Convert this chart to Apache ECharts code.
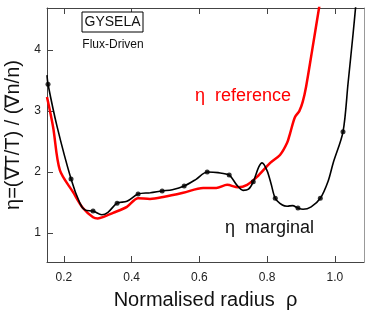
<!DOCTYPE html>
<html><head><meta charset="utf-8">
<script src="https://cdn.jsdelivr.net/npm/echarts@6/dist/echarts.min.js"></script>
<style>html,body{margin:0;padding:0;background:#fff}#c{width:365px;height:312px}</style>
</head><body><div id="c"></div>
<script>
const xTicks = [0.2, 0.4, 0.6, 0.8, 1.0];
const yTicks = [1, 2, 3, 4];

const marginalX = [0.150,0.153,0.18,0.221,0.247,0.262,0.286,0.312,0.33,0.357,0.386,0.419,0.455,0.490,0.52,0.555,0.59,0.623,0.655,0.688,0.71,0.729,0.745,0.759,0.775,0.785,0.80,0.812,0.824,0.845,0.859,0.875,0.891,0.906,0.93,0.957,0.98,0.995,1.024,1.039,1.054,1.062];
const marginalY = [3.59,3.44,2.74,1.886,1.49,1.38,1.36,1.30,1.34,1.49,1.52,1.64,1.66,1.69,1.71,1.77,1.88,2.00,1.99,1.95,1.79,1.70,1.72,1.84,2.08,2.15,2.02,1.80,1.57,1.46,1.44,1.45,1.41,1.39,1.43,1.57,1.85,2.15,2.66,3.46,4.28,4.75];

const markerX = [0.153,0.221,0.286,0.357,0.419,0.490,0.555,0.623,0.688,0.759,0.824,0.891,0.957,1.024];
const markerY = [3.44,1.886,1.36,1.49,1.64,1.69,1.77,2.00,1.95,1.84,1.57,1.41,1.57,2.66];

const referenceX = [0.150,0.168,0.188,0.227,0.256,0.286,0.30,0.315,0.345,0.386,0.419,0.454,0.493,0.552,0.611,0.65,0.682,0.714,0.741,0.77,0.809,0.838,0.859,0.868,0.882,0.895,0.905,0.915,0.933,0.955];
const referenceY = [3.23,2.74,2.03,1.67,1.41,1.26,1.24,1.26,1.33,1.43,1.57,1.56,1.59,1.66,1.74,1.74,1.79,1.75,1.79,1.92,2.15,2.28,2.48,2.64,2.90,3.00,3.15,3.40,4.0,4.75];

const zip = (a, b) => a.map((v, i) => [v, b[i]]);
const axisColor = '#444';
const font = '"Liberation Sans", Arial, sans-serif';

const chart = echarts.init(document.getElementById('c'));
chart.setOption({
  animation: false,
  grid: { left: 47, right: 1, top: 8, bottom: 50, outerBoundsMode: 'none', containLabel: false },
  xAxis: [{
    type: 'value', min: 0.15, max: 1.086, position: 'bottom',
    name: 'Normalised radius  ρ', nameLocation: 'middle', nameGap: 28,
    nameTextStyle: { fontSize: 20, color: '#111', fontFamily: font },
    axisLine: { show: true, onZero: false, lineStyle: { color: axisColor, width: 1 } },
    axisTick: { show: true, inside: true, length: 6, customValues: xTicks, lineStyle: { color: axisColor } },
    axisLabel: { customValues: xTicks, fontSize: 12, color: '#222', fontFamily: font, margin: 10, formatter: v => v.toFixed(1) },
    splitLine: { show: false }
  }, {
    type: 'value', min: 0.15, max: 1.086, position: 'top',
    axisLine: { show: true, onZero: false, lineStyle: { color: axisColor, width: 1 } },
    axisTick: { show: true, inside: true, length: 6, customValues: xTicks, lineStyle: { color: axisColor } },
    axisLabel: { show: false }, splitLine: { show: false }
  }],
  yAxis: [{
    type: 'value', min: 0.525, max: 4.69, position: 'left',
    name: 'η=(∇T/T) / (∇n/n)', nameLocation: 'middle', nameGap: 19, nameRotate: 90,
    nameTextStyle: { fontSize: 20, color: '#111', fontFamily: font },
    axisLine: { show: true, onZero: false, lineStyle: { color: axisColor, width: 1 } },
    axisTick: { show: true, inside: true, length: 6, customValues: yTicks, lineStyle: { color: axisColor } },
    axisLabel: { customValues: yTicks, fontSize: 12, color: '#222', fontFamily: font, margin: 6 },
    splitLine: { show: false }
  }, {
    type: 'value', min: 0.525, max: 4.69, position: 'right',
    axisLine: { show: true, onZero: false, lineStyle: { color: '#999', width: 1 } },
    axisTick: { show: false }, axisLabel: { show: false }, splitLine: { show: false }
  }],
  series: [{
    type: 'line', data: zip(referenceX, referenceY), smooth: 0.3, showSymbol: false,
    lineStyle: { color: '#ff0000', width: 2.5 }, z: 2
  }, {
    type: 'line', data: zip(marginalX, marginalY), smooth: 0.3, showSymbol: false,
    lineStyle: { color: '#000', width: 1.6 }, z: 3
  }, {
    type: 'scatter', data: zip(markerX, markerY), symbol: 'circle', symbolSize: 5,
    itemStyle: { color: '#000' }, z: 4
  }],
  graphic: [
    { type: 'rect', shape: { x: 82, y: 12, width: 61, height: 20 }, style: { fill: '#fff', stroke: '#000', lineWidth: 1 }, z: 10 },
    { type: 'text', x: 112.5, y: 22, style: { text: 'GYSELA', font: '14px ' + font, fill: '#111', align: 'center', verticalAlign: 'middle' }, z: 11 },
    { type: 'text', x: 113, y: 45, style: { text: 'Flux-Driven', font: '12px ' + font, fill: '#111', align: 'center', verticalAlign: 'middle' }, z: 11 },
    { type: 'text', x: 195, y: 96, style: { text: 'η  reference', font: '18px ' + font, fill: '#ff0000', align: 'left', verticalAlign: 'middle' }, z: 11 },
    { type: 'text', x: 225, y: 228, style: { text: 'η  marginal', font: '18px ' + font, fill: '#111', align: 'left', verticalAlign: 'middle' }, z: 11 }
  ]
});
</script></body></html>
